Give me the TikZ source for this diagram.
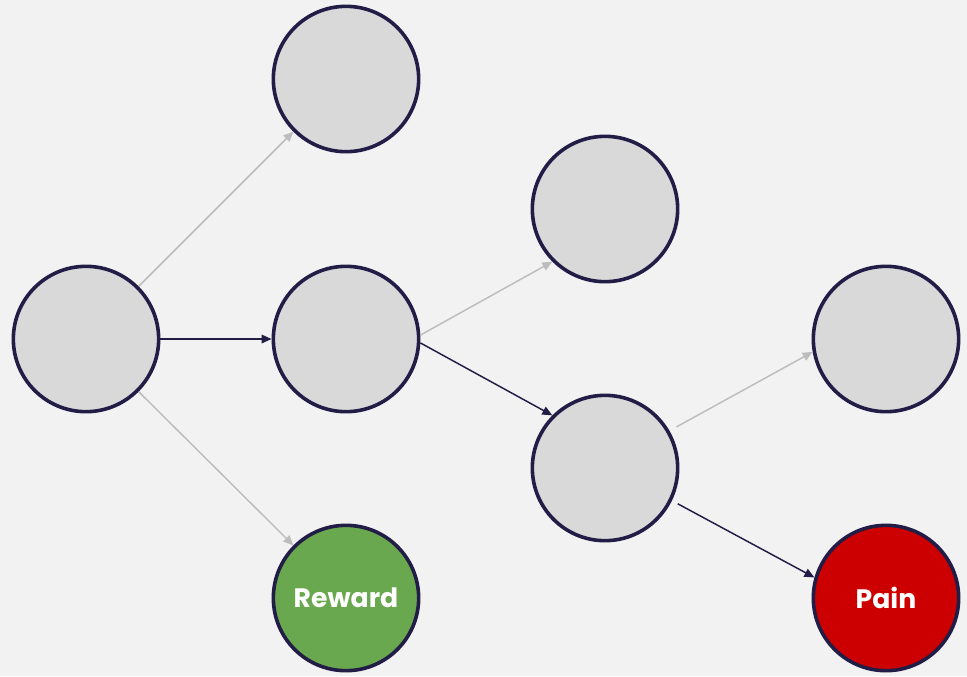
\documentclass[tikz,border=0pt]{standalone}
\usepackage{fontspec}
\setmainfont{Poppins}
\usetikzlibrary{arrows.meta}
\definecolor{bg}{HTML}{F2F2F2}
\definecolor{navy}{HTML}{221D47}
\definecolor{nodefill}{HTML}{D9D9D9}
\definecolor{greyline}{HTML}{BDBDBD}
\definecolor{rewardgreen}{HTML}{6AA84F}
\definecolor{painred}{HTML}{CC0000}
\begin{document}
\begin{tikzpicture}[x=0.75pt,y=-0.75pt,
  state/.style={circle,draw=navy,line width=2.7pt,fill=nodefill,minimum size=109pt,inner sep=0pt,
    font=\fontsize{20pt}{24pt}\selectfont\bfseries,text=white},
  darkedge/.style={navy,line width=1.1pt,-{Triangle[length=7.5pt,width=6.5pt]}},
  greyedge/.style={greyline,line width=1.1pt,-{Triangle[length=7.5pt,width=6.5pt]}}]
\fill[bg] (0,0) rectangle (967,676);
\useasboundingbox (0,0) rectangle (967,676);
\node[state] (A) at (86,339) {};
\node[state] (B) at (346,79) {};
\node[state] (C) at (346,339) {};
\node[state] (D) at (605,209) {};
\node[state] (E) at (605,468) {};
\node[state] (F) at (886,339) {};
\node[state,fill=rewardgreen] (R) at (346,598) {Reward};
\node[state,fill=painred] (P) at (886,598) {Pain};
\draw[greyedge] (A.45) -- (B.225);
\draw[darkedge] (A.east) -- (C.west);
\draw[greyedge] (A.-45) -- (R.135);
\draw[greyedge] (C.3) -- (D.225);
\draw[darkedge] (C.-3) -- (E.135);
\draw[greyedge,shorten <=6pt] (E.30) -- (F.190);
\draw[darkedge,shorten <=5pt] (E.-26) -- (P.164);
\end{tikzpicture}
\end{document}
